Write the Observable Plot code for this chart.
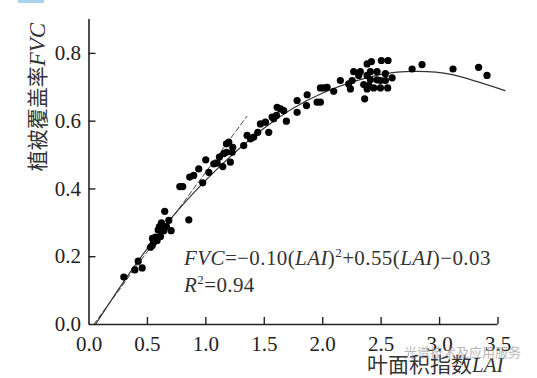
<!DOCTYPE html>
<html><head><meta charset="utf-8">
<script src="https://cdn.jsdelivr.net/npm/d3@7"></script>
<script src="https://cdn.jsdelivr.net/npm/@observablehq/plot@0.6"></script>
<style>body{margin:0;background:#fff}</style>
</head><body><div id="chart"></div>
<script>
// Observed samples (leaf area index vs fractional vegetation cover)
const lai = [0.298,0.392,0.455,0.421,0.526,0.541,0.554,0.583,0.569,0.612,0.592,0.640,0.703,0.620,0.683,0.648,0.854,0.603,0.543,0.663,
  0.777,0.802,0.862,0.896,0.939,0.973,0.999,1.025,1.068,1.097,1.116,1.145,1.153,1.176,1.196,1.176,1.210,1.225,1.230,
  1.324,1.353,1.382,1.410,1.444,1.467,1.510,1.538,1.567,1.604,1.610,1.581,1.638,1.666,1.689,1.781,1.781,1.867,1.861,
  1.952,1.980,1.980,2.009,2.038,2.094,2.151,2.222,2.237,2.252,2.265,2.322,2.308,2.351,2.359,2.380,2.417,2.380,2.380,
  2.394,2.408,2.408,2.436,2.465,2.465,2.494,2.494,2.502,2.559,2.536,2.536,2.556,2.594,2.765,2.850,3.115,3.334,3.406];
const fvc = [0.140,0.161,0.167,0.187,0.228,0.233,0.243,0.248,0.258,0.260,0.279,0.277,0.277,0.300,0.307,0.334,0.309,0.289,0.254,0.289,
  0.407,0.407,0.435,0.440,0.459,0.418,0.486,0.449,0.474,0.476,0.494,0.466,0.504,0.533,0.538,0.508,0.479,0.508,0.523,
  0.528,0.558,0.548,0.553,0.567,0.592,0.597,0.567,0.612,0.617,0.641,0.607,0.636,0.631,0.600,0.661,0.626,0.678,0.646,
  0.656,0.656,0.698,0.698,0.700,0.688,0.720,0.710,0.695,0.720,0.746,0.746,0.735,0.708,0.666,0.769,0.776,0.735,0.695,
  0.705,0.746,0.722,0.698,0.746,0.722,0.720,0.698,0.779,0.779,0.740,0.720,0.698,0.728,0.754,0.767,0.754,0.759,0.735];
// Quadratic fit curve as drawn
const fitLai = [0.055,0.3,0.6,1.0,1.5,2.0,2.5,2.8,3.1,3.56];
const fitFvc = [0.0,0.128,0.27,0.426,0.58,0.683,0.738,0.747,0.738,0.69];
// Dashed linear reference line
const linLai = [0.04,1.35];
const linFvc = [0.0,0.614];
const xTicks = [0,0.5,1.0,1.5,2.0,2.5,3.0,3.5];
const yTicks = [0,0.2,0.4,0.6,0.8];

const pts = lai.map((x,i)=>({x, y:fvc[i]}));
const fit = fitLai.map((x,i)=>({x, y:fitFvc[i]}));
const lin = linLai.map((x,i)=>({x, y:linFvc[i]}));
const fmt = d => d.toFixed(1);
const ink = "#222";

const svg = Plot.plot({
  width:537, height:378,
  marginLeft:88.5, marginRight:39.5, marginTop:19, marginBottom:54,
  x:{domain:[0,3.5], label:null},
  y:{domain:[0,0.9], label:null},
  style:{fontFamily:"'Liberation Serif', 'Times New Roman', serif", fontSize:"21px", color:ink, background:"#fff", overflow:"visible"},
  marks:[
    Plot.line(lin, {x:"x", y:"y", stroke:"#444", strokeWidth:1, strokeDasharray:"5,3"}),
    Plot.line(fit, {x:"x", y:"y", curve:"natural", stroke:"#333", strokeWidth:1.2}),
    Plot.dot(pts, {x:"x", y:"y", r:3.6, fill:"#000", stroke:null}),
    Plot.ruleX([0], {stroke:ink, strokeWidth:1.6}),
    Plot.ruleY([0], {stroke:ink, strokeWidth:1.6}),
    Plot.ruleX(xTicks.slice(1), {x:d=>d, y1:0, y2:0, insetTop:-7, stroke:ink, strokeWidth:1.4}),
    Plot.ruleY(yTicks.slice(1), {y:d=>d, x1:0, x2:0, insetRight:-7, stroke:ink, strokeWidth:1.4}),
    Plot.axisX(xTicks, {tickSize:0, tickPadding:12, tickFormat:fmt, label:null, fill:ink}),
    Plot.axisY(yTicks, {tickSize:0, tickPadding:8, tickFormat:fmt, label:null, fill:ink})
  ]
});
document.getElementById("chart").appendChild(svg);

const s = d3.select(svg);
const serif = "'Liberation Serif', 'Times New Roman', serif";
const cjk = "'Noto Sans CJK SC', sans-serif";

// top-left accent bar
s.append("rect").attr("x",18).attr("y",0).attr("width",26).attr("height",3).attr("fill","#a9d3ee");

// y title
const yt = s.append("text").attr("transform","translate(45,97) rotate(-90)")
  .attr("text-anchor","middle").attr("fill","#333").attr("font-size",21);
yt.append("tspan").attr("font-family",cjk).text("植被覆盖率");
yt.append("tspan").attr("font-family",serif).attr("font-style","italic").attr("font-size",23).text("FVC");

// x title
const xt = s.append("text").attr("x",367).attr("y",372).attr("text-anchor","start").attr("fill","#333").attr("font-size",21);
xt.append("tspan").attr("font-family",cjk).text("叶面积指数");
xt.append("tspan").attr("font-family",serif).attr("font-style","italic").text("LAI");

// watermark
s.append("text").attr("x",404).attr("y",357).attr("text-anchor","start").attr("font-family",cjk).attr("font-size",13)
  .attr("fill","#9a9a9a").attr("opacity",0.7).text("光谱技术及应用服务");

// equation
const eq = s.append("text").attr("x",184).attr("y",265).attr("text-anchor","start").attr("font-family",serif)
  .attr("font-size",21).attr("letter-spacing",0.4).attr("fill","#333");
eq.append("tspan").attr("font-style","italic").text("FVC");
eq.append("tspan").text("=\u22120.10(");
eq.append("tspan").attr("font-style","italic").text("LAI");
eq.append("tspan").text(")");
eq.append("tspan").attr("font-size",13).attr("dy",-8).text("2");
eq.append("tspan").attr("dy",8).text("+0.55(");
eq.append("tspan").attr("font-style","italic").text("LAI");
eq.append("tspan").text(")\u22120.03");

const r2 = s.append("text").attr("x",184).attr("y",292).attr("text-anchor","start").attr("font-family",serif)
  .attr("font-size",21).attr("letter-spacing",0.4).attr("fill","#333");
r2.append("tspan").attr("font-style","italic").text("R");
r2.append("tspan").attr("font-size",13).attr("dy",-8).text("2");
r2.append("tspan").attr("dy",8).text("=0.94");
</script>
</body></html>
